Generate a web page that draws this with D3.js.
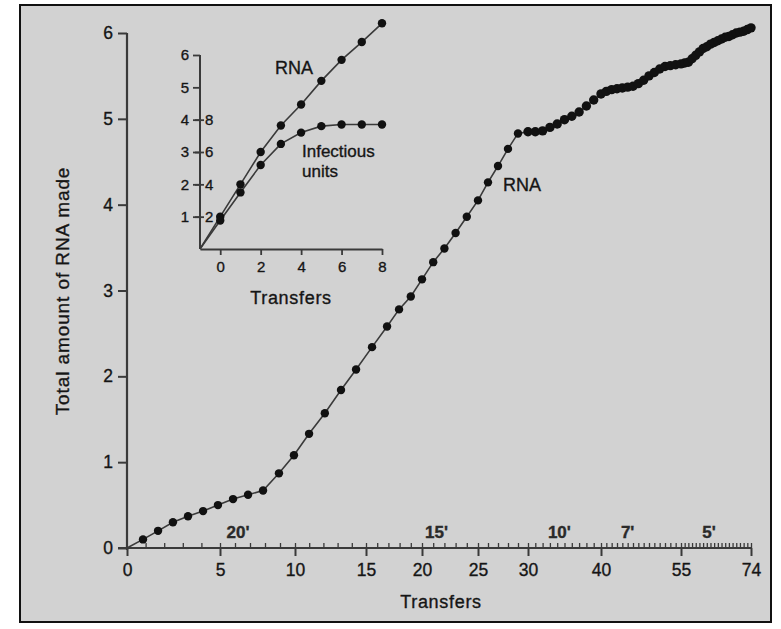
<!DOCTYPE html>
<html>
<head>
<meta charset="utf-8">
<script src="https://cdn.jsdelivr.net/npm/d3@7"></script>
<style>
  body { margin: 0; background: #fff; }
  svg { display: block; font-family: "Liberation Sans", Arial, Helvetica, sans-serif; }
  svg text { paint-order: stroke; stroke: #222; stroke-width: 0.35px; }
</style>
</head>
<body>
<svg id="chart" width="781" height="629"></svg>
<script>
// Main panel: total RNA made vs. transfer number (serial transfer experiment).
// Early points are not quite on whole transfers in the original drawing.
const EARLY_TRANSFERS = [0.86, 1.67, 2.47, 3.28, 4.09, 4.89, 5.87, 6.87, 7.87, 8.93,
  9.93, 10.99, 12.1, 13.24, 14.3, 15.54, 16.88, 17.95];
const EARLY_RNA = [0.10, 0.20, 0.30, 0.37, 0.43, 0.50, 0.57, 0.62, 0.67, 0.87,
  1.08, 1.33, 1.57, 1.84, 2.08, 2.34, 2.58, 2.78];
const LATE_TRANSFERS = d3.range(19, 75);
const LATE_RNA = [
  2.93, 3.13, 3.33, 3.49, 3.67, 3.86, 4.05, 4.26, 4.45, 4.65,
  4.83, 4.85, 4.85, 4.86, 4.90, 4.94, 4.99, 5.03, 5.08, 5.15,
  5.22, 5.29, 5.32, 5.34, 5.35, 5.36, 5.37, 5.38, 5.41, 5.45,
  5.50, 5.54, 5.58, 5.61, 5.62, 5.63, 5.64, 5.65, 5.66, 5.70,
  5.74, 5.78, 5.82, 5.84, 5.87, 5.89, 5.91, 5.93, 5.95, 5.96,
  5.98, 6.00, 6.01, 6.02, 6.04, 6.06
];
const MINOR_TICKS = d3.range(1, 75);
const X_MAJOR = [0, 5, 10, 15, 20, 25, 30, 40, 55, 74];
const Y_TICKS = [0, 1, 2, 3, 4, 5, 6];
// incubation time per transfer, labelled along the axis
const PERIOD_LABELS = ["20'", "15'", "10'", "7'", "5'"];
const PERIOD_AT = [6.2, 21.3, 34.3, 45, 62.6];

// Inset: first eight transfers, RNA (left scale) and infectious units (right scale)
const INSET_TRANSFERS = [0, 1, 2, 3, 4, 5, 6, 7, 8];
const INSET_RNA = [1.0, 2.0, 3.0, 3.82, 4.47, 5.2, 5.85, 6.4, 6.98];
const INSET_INFECTIOUS = [1.76, 3.5, 5.2, 6.5, 7.2, 7.6, 7.7, 7.7, 7.7];
const INSET_X_TICKS = [0, 2, 4, 6, 8];
const INSET_Y_TICKS = [1, 2, 3, 4, 5, 6];
const INSET_INF_TICKS = [2, 4, 6, 8];

const INK = '#151515';
const LINE = '#3a3a3a';

const svg = d3.select('#chart');

// paper + frame
svg.append('rect').attr('x', 0).attr('y', 0).attr('width', 781).attr('height', 629).attr('fill', '#fff');
svg.append('rect')
  .attr('x', 20).attr('y', 5).attr('width', 751).attr('height', 617)
  .attr('fill', '#d2d2d2').attr('stroke', '#111').attr('stroke-width', 2);

// ---- main panel ----
// axis spacing is uneven in the original figure, so piecewise-linear
const x = d3.scaleLinear()
  .domain(X_MAJOR)
  .range([127, 220, 295, 366, 422, 478, 528, 601, 681, 751]);
const y = d3.scaleLinear().domain([0, 6]).range([548, 33]);

const main = svg.append('g');

// minor ticks (one per transfer), pointing up
main.append('g')
  .attr('transform', `translate(0,${y(0)})`)
  .call(d3.axisTop(x).tickValues(MINOR_TICKS).tickSize(5).tickFormat(''))
  .call(g => g.select('.domain').remove())
  .call(g => g.selectAll('line').attr('stroke', LINE).attr('stroke-width', 1.3));

const xAxis = main.append('g')
  .attr('transform', `translate(0,${y(0)})`)
  .call(d3.axisBottom(x).tickValues(X_MAJOR).tickSize(8).tickSizeOuter(0).tickPadding(8));
xAxis.select('.domain').attr('stroke', LINE).attr('stroke-width', 2.2)
  .attr('d', `M${x(0) - 9},0H${x(74)}`);
xAxis.selectAll('line').attr('stroke', LINE).attr('stroke-width', 2);
xAxis.selectAll('text').attr('fill', INK).attr('font-size', 17.5);

const yAxis = main.append('g')
  .attr('transform', `translate(${x(0)},0)`)
  .call(d3.axisLeft(y).tickValues(Y_TICKS).tickSize(9).tickSizeOuter(0).tickPadding(5).tickFormat(d3.format('d')));
yAxis.select('.domain').attr('stroke', LINE).attr('stroke-width', 2.2)
  .attr('d', `M0,${y(6)}V${y(0) + 2}`);
yAxis.selectAll('line').attr('stroke', LINE).attr('stroke-width', 2);
yAxis.selectAll('text').attr('fill', INK).attr('font-size', 17.5);

main.append('g').selectAll('text')
  .data(PERIOD_LABELS)
  .join('text')
  .attr('x', (d, i) => x(PERIOD_AT[i]))
  .attr('y', y(0) - 10)
  .attr('text-anchor', 'middle')
  .attr('font-size', 17)
  .attr('font-weight', 'bold')
  .attr('fill', '#2a2a2a')
  .text(d => d);

const mainPts = [{ t: 0, v: 0 }]
  .concat(EARLY_TRANSFERS.map((t, i) => ({ t, v: EARLY_RNA[i] })))
  .concat(LATE_TRANSFERS.map((t, i) => ({ t, v: LATE_RNA[i] })));
main.append('path')
  .datum(mainPts)
  .attr('fill', 'none').attr('stroke', LINE).attr('stroke-width', 1.6)
  .attr('d', d3.line().x(d => x(d.t)).y(d => y(d.v)));
main.append('g').selectAll('circle')
  .data(mainPts.slice(1))
  .join('circle')
  .attr('cx', d => x(d.t)).attr('cy', d => y(d.v))
  .attr('r', d => d.t > 29 ? 4.7 : 4.2)
  .attr('fill', '#111');

main.append('text')
  .attr('x', 503).attr('y', 191)
  .attr('font-size', 18).attr('fill', INK)
  .text('RNA');

main.append('text')
  .attr('x', 441).attr('y', 608)
  .attr('text-anchor', 'middle').attr('font-size', 18).attr('letter-spacing', 0.7).attr('fill', INK)
  .text('Transfers');

main.append('text')
  .attr('transform', 'translate(69,291) rotate(-90)')
  .attr('text-anchor', 'middle').attr('font-size', 19).attr('letter-spacing', 0.9).attr('fill', INK)
  .text('Total amount of RNA made');

// ---- inset ----
const ix = d3.scaleLinear().domain([-1, 8]).range([200, 382]);
const iy = d3.scaleLinear().domain([0, 6]).range([249, 55]);
const iyInf = d3.scaleLinear().domain([0, 12]).range([249, 55]);

const inset = svg.append('g');

const ixAxis = inset.append('g')
  .attr('transform', `translate(0,${iy(0)})`)
  .call(d3.axisBottom(ix).tickValues(INSET_X_TICKS).tickSize(6).tickSizeOuter(0).tickPadding(6));
ixAxis.select('.domain').attr('stroke', LINE).attr('stroke-width', 2);
ixAxis.selectAll('line').attr('stroke', LINE).attr('stroke-width', 1.8);
ixAxis.selectAll('text').attr('fill', INK).attr('font-size', 15);

const iyAxis = inset.append('g')
  .attr('transform', `translate(${ix(-1)},0)`)
  .call(d3.axisLeft(iy).tickValues(INSET_Y_TICKS).tickSize(7).tickSizeOuter(0).tickPadding(4).tickFormat(d3.format('d')));
iyAxis.select('.domain').attr('stroke', LINE).attr('stroke-width', 2)
  .attr('d', `M0,${iy(6)}V${iy(0)}`);
iyAxis.selectAll('line').attr('stroke', LINE).attr('stroke-width', 1.8);
iyAxis.selectAll('text').attr('fill', INK).attr('font-size', 15);

// right-hand scale for infectious units, drawn inside the axis
const infAxis = inset.append('g')
  .attr('transform', `translate(${ix(-1) - 5},0)`)
  .call(d3.axisRight(iyInf).tickValues(INSET_INF_TICKS).tickSize(9).tickSizeOuter(0).tickPadding(1).tickFormat(d3.format('d')));
infAxis.select('.domain').remove();
infAxis.selectAll('line').attr('stroke', LINE).attr('stroke-width', 1.8);
infAxis.selectAll('text').attr('fill', INK).attr('font-size', 15);

const origin = { t: -1, v: 0 };
const rnaPts = [origin].concat(INSET_TRANSFERS.map((t, i) => ({ t, v: INSET_RNA[i] })));
const infPts = [origin].concat(INSET_TRANSFERS.map((t, i) => ({ t, v: INSET_INFECTIOUS[i] })));

inset.append('path').datum(rnaPts)
  .attr('fill', 'none').attr('stroke', LINE).attr('stroke-width', 1.6)
  .attr('d', d3.line().x(d => ix(d.t)).y(d => iy(d.v)));
inset.append('path').datum(infPts)
  .attr('fill', 'none').attr('stroke', LINE).attr('stroke-width', 1.6)
  .attr('d', d3.line().x(d => ix(d.t)).y(d => iyInf(d.v)));

inset.append('g').selectAll('circle')
  .data(rnaPts.slice(1))
  .join('circle')
  .attr('cx', d => ix(d.t)).attr('cy', d => iy(d.v)).attr('r', 4.2).attr('fill', '#111');
inset.append('g').selectAll('circle')
  .data(infPts.slice(1))
  .join('circle')
  .attr('cx', d => ix(d.t)).attr('cy', d => iyInf(d.v)).attr('r', 4.2).attr('fill', '#111');

inset.append('text').attr('x', 275).attr('y', 74)
  .attr('font-size', 18).attr('fill', INK).text('RNA');
inset.append('text').attr('x', 302).attr('y', 157)
  .attr('font-size', 17).attr('fill', INK).text('Infectious');
inset.append('text').attr('x', 302).attr('y', 177)
  .attr('font-size', 17).attr('fill', INK).text('units');
inset.append('text').attr('x', 291).attr('y', 304)
  .attr('text-anchor', 'middle').attr('font-size', 18).attr('letter-spacing', 0.7).attr('fill', INK).text('Transfers');
</script>
</body>
</html>
